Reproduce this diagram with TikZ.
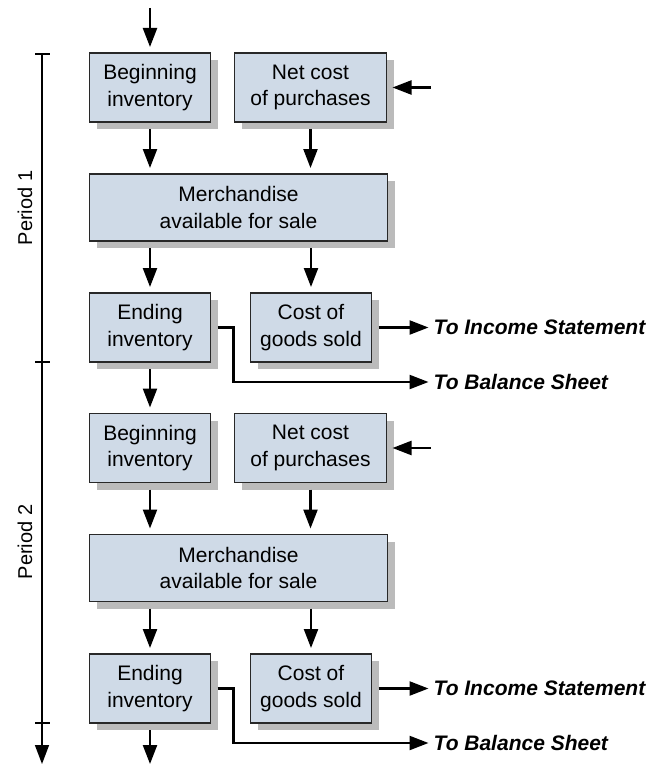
\documentclass[tikz,border=0pt]{standalone}
\usepackage{fontspec}
\setmainfont{Liberation Sans}
\usetikzlibrary{arrows.meta, positioning, shadows}

\definecolor{boxfill}{RGB}{207,218,231}
\definecolor{boxline}{RGB}{40,40,40}
\definecolor{shade}{RGB}{187,187,187}

\begin{document}
\begin{tikzpicture}[
    x=1pt, y=1pt,
    >={Triangle[length=19pt, width=14pt]},
    blk/.style={draw=boxline, line width=1.7pt, fill=boxfill,
        minimum height=69pt, inner sep=0pt, outer sep=0pt, align=center,
        font=\fontsize{21}{26.5}\selectfont,
        drop shadow={shadow xshift=7pt, shadow yshift=-7pt,
                     fill=shade, opacity=1}},
    arr/.style={->, line width=2.3pt, shorten >=6pt},
    dest/.style={inner sep=0pt, anchor=west,
        font=\fontsize{21}{25}\selectfont\bfseries\itshape},
    per/.style={rotate=90, font=\fontsize{20}{24}\selectfont}
  ]
  \useasboundingbox (0,0) rectangle (668,-765);

  % period 1
  \node[blk, minimum width=121pt] (beg1) at (150,-87.5)
    {Beginning\\inventory};
  \node[blk, minimum width=152pt, right=24pt of beg1] (net1)
    {Net cost\\of purchases};
  \node[blk, minimum width=298pt, minimum height=67pt] (merch1)
    at (238.5,-207.5) {Merchandise\\available for sale};
  \node[blk, minimum width=121pt] (end1) at (150,-327.5)
    {Ending\\inventory};
  \node[blk, minimum width=121pt, right=40pt of end1] (cogs1)
    {Cost of\\goods sold};
  \node[dest, right=62pt of cogs1] (inc1) {To Income Statement};
  \node[dest, below=54.5pt of inc1.west, anchor=west] (bal1)
    {To Balance Sheet};

  % period 2
  \node[blk, minimum width=121pt] (beg2) at (150,-448)
    {Beginning\\inventory};
  \node[blk, minimum width=152pt, right=24pt of beg2] (net2)
    {Net cost\\of purchases};
  \node[blk, minimum width=298pt, minimum height=67pt] (merch2)
    at (238.5,-568) {Merchandise\\available for sale};
  \node[blk, minimum width=121pt] (end2) at (150,-688.5)
    {Ending\\inventory};
  \node[blk, minimum width=121pt, right=40pt of end2] (cogs2)
    {Cost of\\goods sold};
  \node[dest, right=62pt of cogs2] (inc2) {To Income Statement};
  \node[dest, below=54.5pt of inc2.west, anchor=west] (bal2)
    {To Balance Sheet};

  % loose ends
  \coordinate (top) at (150,-8);
  \coordinate (bot) at (150,-764);
  \coordinate[right=44pt of net1.east] (in1);
  \coordinate[right=44pt of net2.east] (in2);

  % time axis
  \coordinate (t0) at (42,-54);
  \coordinate (t1) at (42,-362);
  \coordinate (t2) at (42,-723);
  \coordinate (t3) at (42,-764);
  \draw[line width=1.5pt, ->] (t0) -- (t3);
  \foreach \t in {t0, t1, t2}
    \draw[line width=1.5pt] ([xshift=-7pt]\t) -- ([xshift=8pt]\t);
  \node[per] (p1) at (25,-208) {Period 1};
  \node[per] (p2) at (25,-542) {Period 2};

  % flows
  \draw[arr] (top) -- (beg1.north);
  \draw[arr] (in1) -- (net1.east);
  \draw[arr, shorten <=7pt] (beg1.south) -- (beg1.south |- merch1.north);
  \draw[arr, shorten <=7pt] (net1.south) -- (net1.south |- merch1.north);
  \draw[arr, shorten <=7pt] (end1.north |- merch1.south) -- (end1.north);
  \draw[arr, shorten <=7pt] (cogs1.north |- merch1.south) -- (cogs1.north);
  \draw[arr, shorten <=7pt, shorten >=5pt] (cogs1.east) -- (inc1.west);
  \draw[arr, shorten <=7pt, shorten >=5pt] (end1.east) -- ++(23,0)
    |- (bal1.west);
  \draw[arr, shorten <=7pt] (end1.south) -- (beg2.north);

  \draw[arr] (in2) -- (net2.east);
  \draw[arr, shorten <=7pt] (beg2.south) -- (beg2.south |- merch2.north);
  \draw[arr, shorten <=7pt] (net2.south) -- (net2.south |- merch2.north);
  \draw[arr, shorten <=7pt] (end2.north |- merch2.south) -- (end2.north);
  \draw[arr, shorten <=7pt] (cogs2.north |- merch2.south) -- (cogs2.north);
  \draw[arr, shorten <=7pt, shorten >=5pt] (cogs2.east) -- (inc2.west);
  \draw[arr, shorten <=7pt, shorten >=5pt] (end2.east) -- ++(23,0)
    |- (bal2.west);
  \draw[arr, shorten <=7pt, shorten >=0pt] (end2.south) -- (bot);
\end{tikzpicture}
\end{document}
